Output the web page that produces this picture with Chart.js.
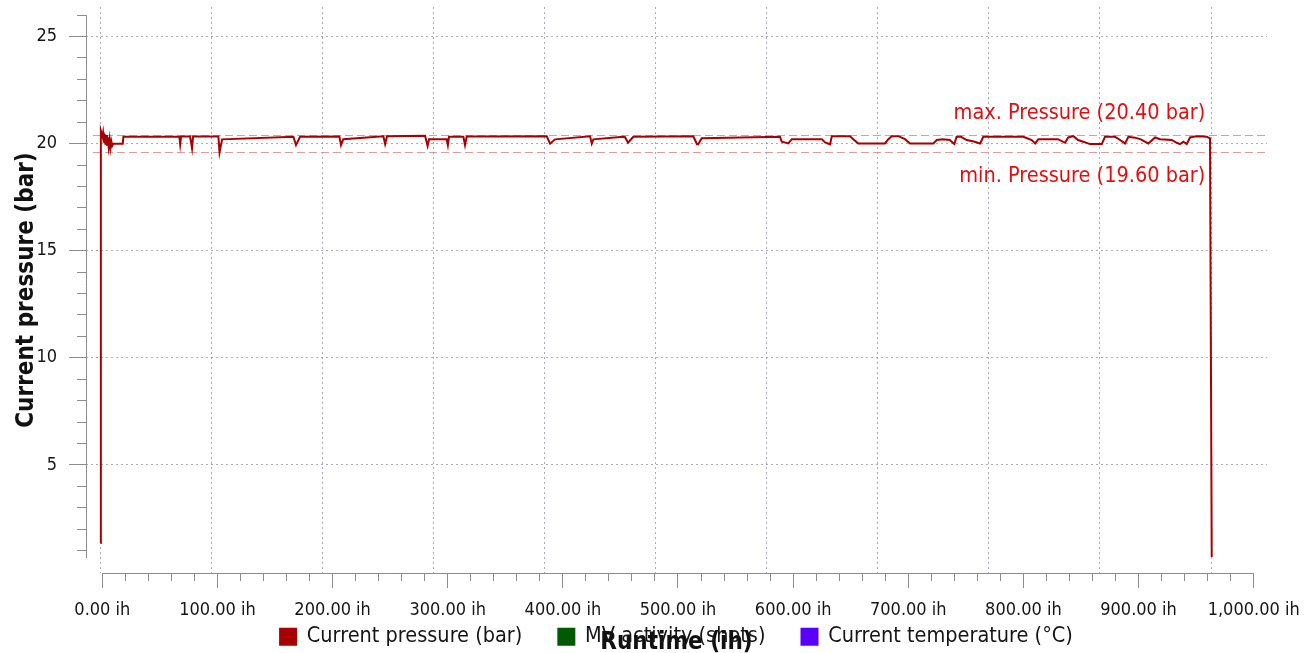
<!DOCTYPE html>
<html>
<head>
<meta charset="utf-8">
<title>Current pressure</title>
<script src="https://cdn.jsdelivr.net/npm/chart.js@4/dist/chart.umd.min.js"></script>
<style>
  html, body { margin: 0; padding: 0; background: #fff; overflow: hidden; }
  canvas { display: block; }
</style>
</head>
<body>
<canvas id="pressureChart" width="1308" height="653"></canvas>
<script>
/* ===============================
   DATA
================================= */
const runtime = [
    -1.5, -1.3, 0.0, 0.6, 1.3, 2.0, 2.6, 3.3, 4.0, 4.8,
    5.5, 6.3, 7.0, 7.8, 8.6, 9.6, 17.7, 18.3, 66.9, 67.6,
    68.4, 76.2, 77.9, 78.8, 100.8, 101.8, 104.0, 165.9, 168.2, 171.7,
    205.9, 207.3, 209.3, 244.1, 245.6, 247.3, 280.3, 282.5, 283.8, 299.1,
    300.1, 301.1, 313.6, 315.0, 316.5, 386.0, 388.9, 393.2, 423.6, 425.1,
    426.5, 452.5, 454.0, 456.6, 461.2, 513.3, 516.5, 517.5, 520.6, 588.6,
    590.1, 595.9, 598.8, 624.9, 627.7, 632.1, 633.6, 649.4, 652.3, 656.6,
    679.8, 682.7, 685.6, 691.4, 697.2, 701.5, 721.8, 724.7, 730.0, 736.0,
    740.0, 742.0, 745.8, 750.8, 757.0, 762.4, 765.2, 800.0, 807.3, 810.2,
    813.0, 823.2, 830.0, 836.2, 839.0, 843.4, 847.5, 852.0, 857.9, 868.1,
    870.9, 879.6, 884.0, 888.3, 891.2, 897.0, 902.0, 908.5, 914.4, 918.7,
    928.9, 933.2, 936.1, 939.0, 941.9, 944.8, 950.0, 956.0, 959.3, 962.1,
    963.6
];

const pressure = [
    1.35, 20.60, 20.35, 20.52, 20.05, 20.45, 19.95, 20.40, 19.90, 20.30,
    19.85, 20.20, 19.80, 20.10, 19.90, 20.00, 20.00, 20.32, 20.33, 19.97,
    20.33, 20.33, 19.78, 20.33, 20.33, 19.59, 20.20, 20.32, 19.93, 20.32,
    20.33, 19.93, 20.21, 20.34, 19.98, 20.34, 20.37, 19.89, 20.20, 20.20,
    19.93, 20.32, 20.32, 19.93, 20.33, 20.34, 20.00, 20.20, 20.34, 20.00,
    20.20, 20.32, 20.30, 20.04, 20.32, 20.34, 19.97, 19.97, 20.25, 20.32,
    20.09, 20.01, 20.21, 20.21, 20.06, 19.97, 20.35, 20.35, 20.21, 20.01,
    20.01, 20.21, 20.35, 20.35, 20.21, 20.01, 20.01, 20.17, 20.20, 20.17,
    19.98, 20.32, 20.32, 20.17, 20.10, 20.01, 20.32, 20.32, 20.17, 20.01,
    20.21, 20.21, 20.21, 20.04, 20.29, 20.35, 20.17, 20.09, 19.98, 19.98,
    20.32, 20.32, 20.17, 20.01, 20.32, 20.28, 20.20, 20.01, 20.29, 20.21,
    20.17, 20.04, 19.98, 20.09, 19.98, 20.29, 20.35, 20.33, 20.32, 20.25,
    0.70
];

const seriesNames = ['Current pressure (bar)', 'MV activity (shots)', 'Current temperature (°C)'];
const seriesColors = ['#a80000', '#005a00', '#5a00ff'];

const maxPressure = 20.40;
const minPressure = 19.60;
const maxLabel = 'max. Pressure (20.40 bar)';
const minLabel = 'min. Pressure (19.60 bar)';

const xTickLabels = ['0.00 ih', '100.00 ih', '200.00 ih', '300.00 ih', '400.00 ih', '500.00 ih',
    '600.00 ih', '700.00 ih', '800.00 ih', '900.00 ih', '1,000.00 ih'];
const yTickLabels = ['5', '10', '15', '20', '25'];

// dotted vertical grid splits the recorded span (not the tick span) into 10
const gridStart = -2;
const gridEnd = 963;

/* ===============================
   STYLE
================================= */
const FONT = '"DejaVu Sans Condensed", "DejaVu Sans", sans-serif';
const axisColor = '#8c8c8c';
const gridColor = 'rgba(125,125,150,0.65)';
const limitColor = 'rgba(214,140,140,0.85)';
const limitTextColor = '#e01010';
const legendLift = 33;

Chart.defaults.font.family = FONT;
Chart.defaults.color = '#151515';

const xTicks = [];
for (let v = 0; v <= 1000; v += 20) xTicks.push(v);
const yTicks = [];
for (let v = 1; v <= 26; v++) yTicks.push(v);
const gridTicks = [];
for (let k = 0; k <= 10; k++) gridTicks.push(gridStart + (gridEnd - gridStart) * k / 10);

/* ===============================
   PLUGINS (axis lines + limits)
================================= */
const limitsPlugin = {
    id: 'limits',
    afterLayout(chart) {
        // legend sits over the axis title, like the original
        const lg = chart.legend;
        lg.top -= legendLift;
        lg.height += legendLift;
    },
    beforeDatasetsDraw(chart) {
        const { ctx, chartArea, scales: { x, y } } = chart;
        ctx.save();
        ctx.lineWidth = 1;

        ctx.strokeStyle = limitColor;
        ctx.setLineDash([8, 4]);
        [maxPressure, minPressure].forEach(v => {
            const py = Math.round(y.getPixelForValue(v)) + 0.5;
            ctx.beginPath();
            ctx.moveTo(chartArea.left + 7, py);
            ctx.lineTo(chartArea.right, py);
            ctx.stroke();
        });
        ctx.setLineDash([]);

        // offset axis lines
        ctx.strokeStyle = axisColor;
        const ax = Math.round(chartArea.left) + 0.5;
        ctx.beginPath();
        ctx.moveTo(ax, y.getPixelForValue(26));
        ctx.lineTo(ax, y.getPixelForValue(0.65));
        ctx.stroke();
        const ay = Math.round(chartArea.bottom) + 0.5;
        ctx.beginPath();
        ctx.moveTo(x.getPixelForValue(0), ay);
        ctx.lineTo(x.getPixelForValue(1000), ay);
        ctx.stroke();
        ctx.restore();
    },
    afterDatasetsDraw(chart) {
        const { ctx, scales: { x, y } } = chart;
        ctx.save();
        ctx.font = '21.5px ' + FONT;
        ctx.fillStyle = limitTextColor;
        ctx.textAlign = 'right';
        ctx.textBaseline = 'middle';
        const tx = x.getPixelForValue(958);
        ctx.fillText(maxLabel, tx, y.getPixelForValue(maxPressure) - 22);
        ctx.fillText(minLabel, tx, y.getPixelForValue(minPressure) + 24);
        ctx.restore();
    }
};

/* ===============================
   CHART
================================= */
const points = runtime.map((t, i) => ({ x: t, y: pressure[i] }));

new Chart(document.getElementById('pressureChart'), {
    type: 'line',
    data: {
        datasets: [
            {
                label: seriesNames[0],
                data: points,
                borderColor: seriesColors[0],
                backgroundColor: seriesColors[0],
                borderWidth: 2,
                pointRadius: 0,
                tension: 0
            },
            { label: seriesNames[1], data: [], borderColor: seriesColors[1], backgroundColor: seriesColors[1], borderWidth: 2 },
            { label: seriesNames[2], data: [], borderColor: seriesColors[2], backgroundColor: seriesColors[2], borderWidth: 2 }
        ]
    },
    options: {
        responsive: false,
        animation: false,
        events: [],
        layout: { padding: { left: 0, top: 7, right: 41, bottom: 0 } },
        plugins: {
            tooltip: { enabled: false },
            legend: {
                position: 'bottom',
                fullSize: false,
                maxHeight: 30,
                labels: {
                    boxWidth: 16,
                    boxHeight: 16,
                    padding: 36,
                    color: '#151515',
                    font: { size: 21.5 }
                }
            }
        },
        scales: {
            x: {
                type: 'linear',
                position: 'bottom',
                min: -14.2,
                max: 1011.6,
                afterBuildTicks: s => { s.ticks = xTicks.map(v => ({ value: v })); },
                afterFit: s => { s.height = 50; s.paddingLeft = 0; s.paddingRight = 0; },
                border: { display: false },
                grid: {
                    drawOnChartArea: false,
                    drawTicks: true,
                    tickLength: 15,
                    tickColor: axisColor,
                    tickWidth: 1,
                    tickBorderDash: c => (c.tick && c.tick.value % 100 === 0) ? [] : [8, 100]
                },
                ticks: {
                    autoSkip: false,
                    maxRotation: 0,
                    minRotation: 0,
                    padding: 12,
                    font: { size: 18 },
                    color: '#151515',
                    callback: v => (v % 100 === 0 ? xTickLabels[v / 100] : '')
                },
                title: {
                    display: true,
                    text: 'Runtime (ih)',
                    color: '#111',
                    font: { size: 24, weight: 'bold' },
                    padding: { top: 0, bottom: -34 }
                }
            },
            xg: {
                type: 'linear',
                axis: 'x',
                position: 'top',
                min: -14.2,
                max: 1011.6,
                afterBuildTicks: s => { s.ticks = gridTicks.map(v => ({ value: v })); },
                afterFit: s => { s.height = 0; s.paddingLeft = 0; s.paddingRight = 0; },
                border: { display: false, dash: [2, 3] },
                grid: { color: gridColor, lineWidth: 1, drawTicks: false },
                ticks: { display: false }
            },
            y: {
                type: 'linear',
                position: 'left',
                min: -0.047,
                max: 26.38,
                afterBuildTicks: s => { s.ticks = yTicks.map(v => ({ value: v })); },
                afterFit: s => { s.width = 86; s.paddingTop = 0; s.paddingBottom = 0; },
                border: { display: false, dash: [2, 3] },
                grid: {
                    color: c => (c.tick && c.tick.value % 5 === 0 && c.tick.value <= 25) ? gridColor : 'rgba(0,0,0,0)',
                    lineWidth: 1,
                    drawTicks: true,
                    tickLength: 17,
                    tickColor: axisColor,
                    tickWidth: 1,
                    tickBorderDash: c => (c.tick && c.tick.value % 5 === 0) ? [] : [0, 8, 9, 100]
                },
                ticks: {
                    autoSkip: false,
                    padding: 12,
                    font: { size: 18 },
                    color: '#151515',
                    callback: v => (v % 5 === 0 ? yTickLabels[v / 5 - 1] : '')
                },
                title: {
                    display: true,
                    text: 'Current pressure (bar)',
                    color: '#111',
                    font: { size: 24, weight: 'bold' },
                    padding: { top: 12.6, bottom: 0 }
                }
            }
        }
    },
    plugins: [limitsPlugin]
});
</script>
</body>
</html>
